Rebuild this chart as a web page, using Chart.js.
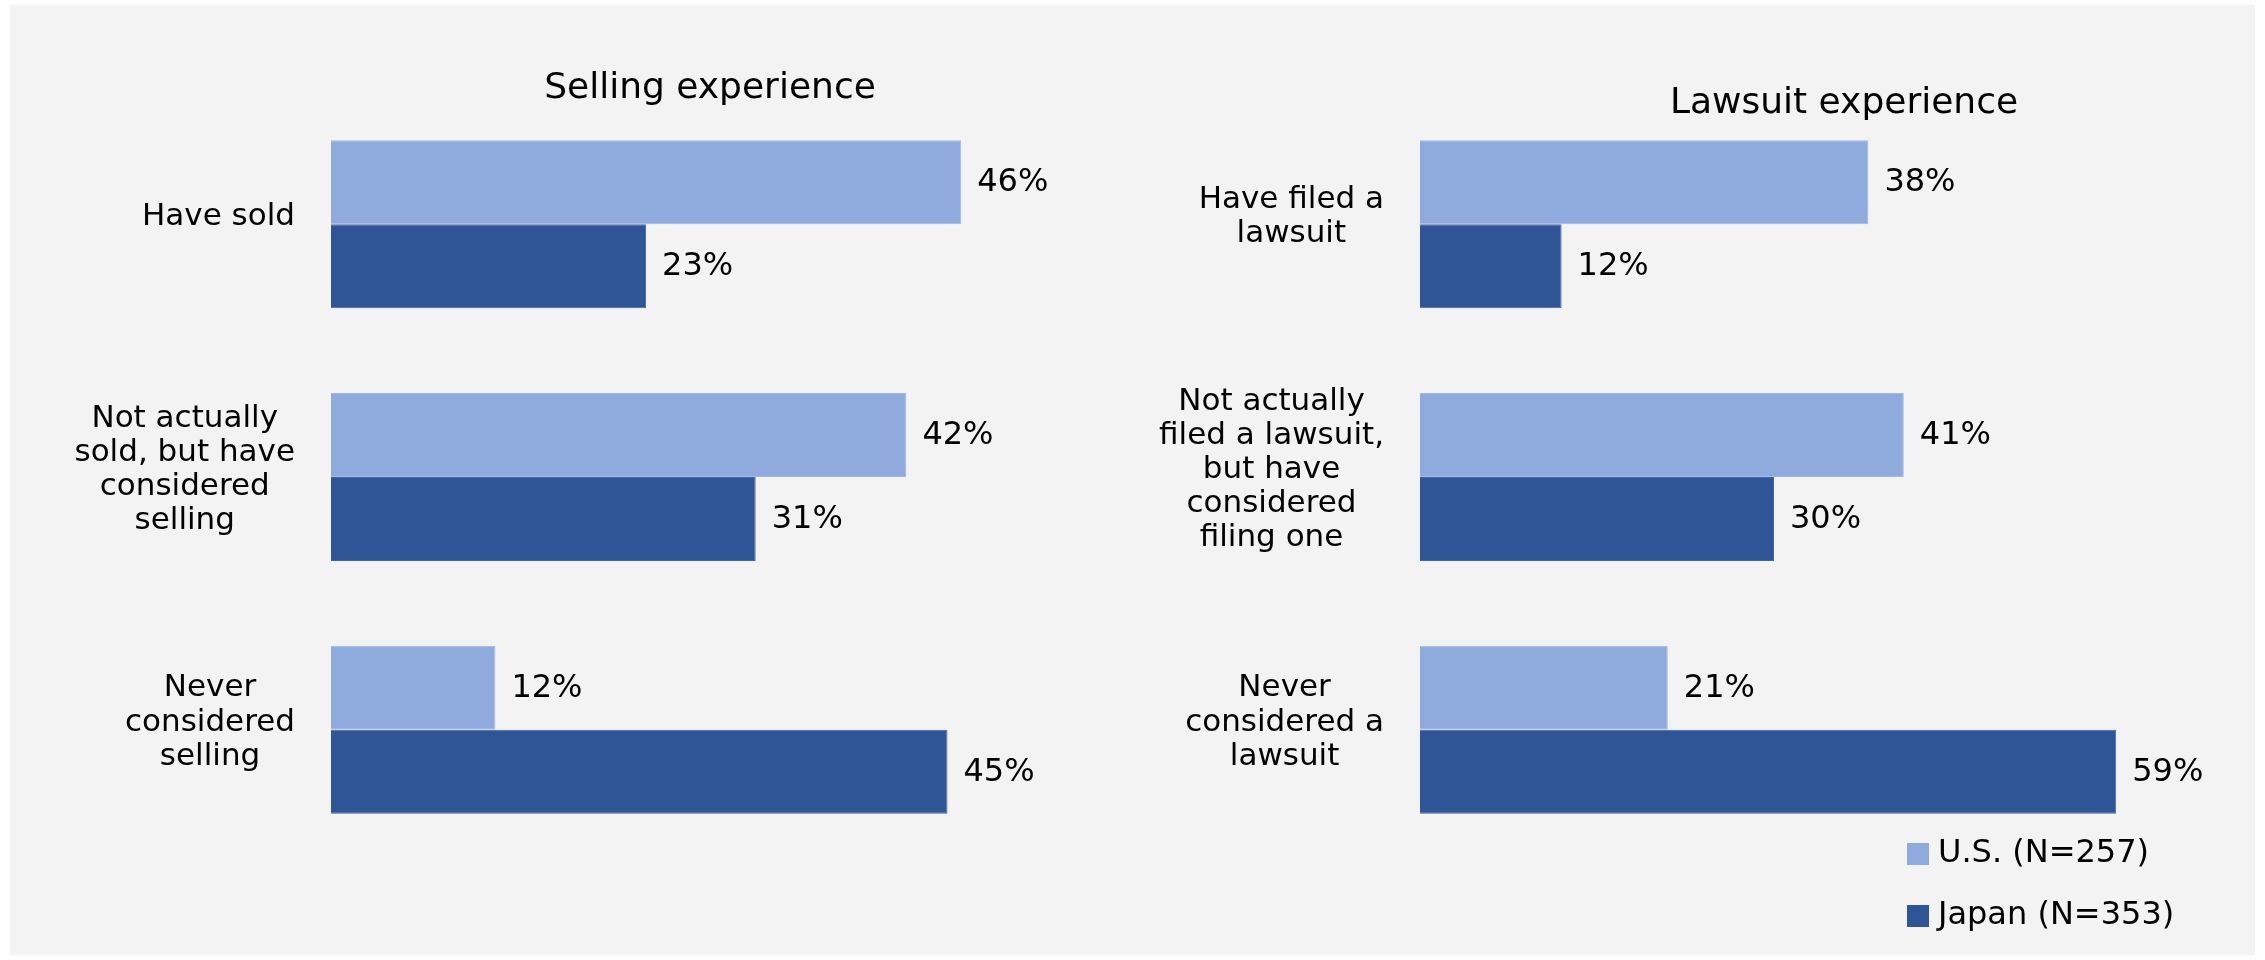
<!DOCTYPE html>
<html>
<head>
<meta charset="utf-8">
<script src="https://cdn.jsdelivr.net/npm/chart.js@4.4.1/dist/chart.umd.min.js"></script>
<style>
  html, body { margin: 0; padding: 0; background: #fff; }
  #wrap { position: relative; width: 2265px; height: 960px; }
  #panel { position: absolute; left: 10px; top: 5px; width: 2245px; height: 950px; background: #f3f3f3; }
  canvas { position: absolute; top: 0; }
  #selling { left: 0; }
  #lawsuit { left: 1130px; }
</style>
</head>
<body>
<div id="wrap">
  <div id="panel"></div>
  <canvas id="selling" width="1130" height="960"></canvas>
  <canvas id="lawsuit" width="1135" height="960"></canvas>
</div>
<script>
const FONT = '"DejaVu Sans", Verdana, sans-serif';

const seriesLabels = ['U.S. (N=257)', 'Japan (N=353)'];
const seriesColors = ['#8FAADC', '#2F5597'];
const seriesEdges = ['#a3b8e2', '#4465a3'];

const sellingTitle = 'Selling experience';
const sellingCategories = [
  ['Have sold'],
  ['Not actually', 'sold, but have', 'considered', 'selling'],
  ['Never', 'considered', 'selling']
];
const sellingUS = [46, 42, 12];
const sellingJapan = [23, 31, 45];

const lawsuitTitle = 'Lawsuit experience';
const lawsuitCategories = [
  ['Have filed a', 'lawsuit'],
  ['Not actually', 'filed a lawsuit,', 'but have', 'considered', 'filing one'],
  ['Never', 'considered a', 'lawsuit']
];
const lawsuitUS = [38, 41, 21];
const lawsuitJapan = [12, 30, 59];

// value labels, wrapped category labels, title and (optionally) legend
const annotate = {
  id: 'annotate',
  afterDatasetsDraw(chart, args, o) {
    const ctx = chart.ctx;
    const area = chart.chartArea;
    ctx.save();
    ctx.fillStyle = '#000';
    ctx.textBaseline = 'alphabetic';

    ctx.font = '32px ' + FONT;
    ctx.textAlign = 'left';
    chart.data.datasets.forEach((ds, i) => {
      chart.getDatasetMeta(i).data.forEach((bar, j) => {
        ctx.fillText(ds.data[j] + '%', bar.x + 16, bar.y + 9);
      });
    });

    // each label block is right-aligned, lines centred inside the block
    ctx.font = '31px ' + FONT;
    ctx.textAlign = 'center';
    const y = chart.scales.y;
    chart.data.labels.forEach((lines, j) => {
      const w = Math.max(...lines.map(l => ctx.measureText(l).width));
      const cx = area.left - 36 - w / 2;
      const cy = y.getPixelForValue(j) + 1;
      lines.forEach((line, k) => {
        ctx.fillText(line, cx, cy + (k - (lines.length - 1) / 2) * 34.2);
      });
    });

    ctx.font = '36px ' + FONT;
    ctx.fillText(o.title, o.titleX, o.titleY);

    if (o.legend) {
      ctx.font = '32px ' + FONT;
      ctx.textAlign = 'left';
      chart.data.datasets.forEach((ds, i) => {
        const top = o.legend.y + i * 62;
        ctx.fillStyle = ds.backgroundColor;
        ctx.fillRect(o.legend.x, top, 22, 22);
        ctx.fillStyle = '#000';
        ctx.fillText(ds.label, o.legend.x + 31, top + 19);
      });
    }
    ctx.restore();
  }
};

function barChart(id, labels, us, japan, max, padding, extra) {
  return new Chart(document.getElementById(id), {
    type: 'bar',
    data: {
      labels: labels,
      datasets: [
        { label: seriesLabels[0], data: us, backgroundColor: seriesColors[0], borderColor: seriesEdges[0], borderWidth: 1 },
        { label: seriesLabels[1], data: japan, backgroundColor: seriesColors[1], borderColor: seriesEdges[1], borderWidth: 1 }
      ]
    },
    options: {
      indexAxis: 'y',
      responsive: false,
      animation: false,
      devicePixelRatio: 1,
      categoryPercentage: 0.665,
      barPercentage: 1,
      layout: { padding: padding },
      scales: {
        x: { display: false, min: 0, max: max },
        y: { display: false }
      },
      plugins: {
        legend: { display: false },
        tooltip: { enabled: false },
        annotate: extra
      }
    },
    plugins: [annotate]
  });
}

barChart('selling', sellingCategories, sellingUS, sellingJapan, 50,
  { left: 331, top: 98, right: 114, bottom: 104 },
  { title: sellingTitle, titleX: 710, titleY: 98 });

barChart('lawsuit', lawsuitCategories, lawsuitUS, lawsuitJapan, 70,
  { left: 290, top: 98, right: 19, bottom: 104 },
  { title: lawsuitTitle, titleX: 714, titleY: 113, legend: { x: 777, y: 843 } });
</script>
</body>
</html>
